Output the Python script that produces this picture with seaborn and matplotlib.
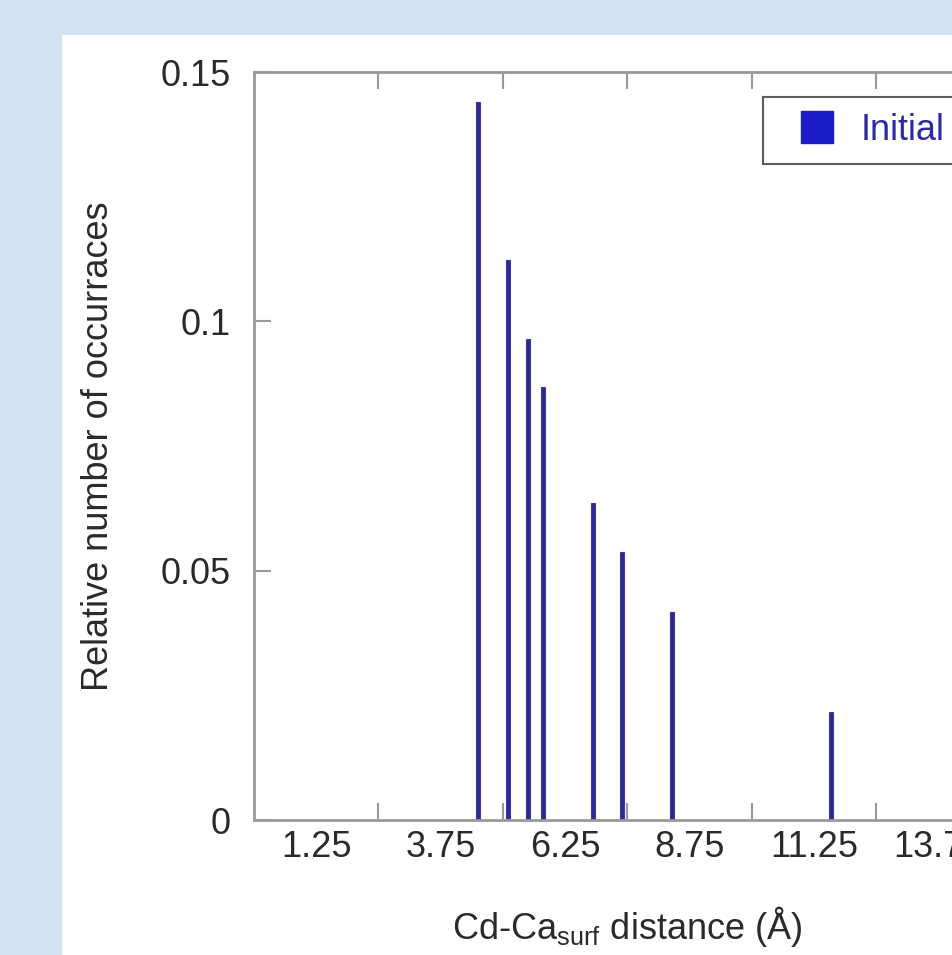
import matplotlib
matplotlib.use("Agg")
import matplotlib.pyplot as plt
import numpy as np
import pandas as pd
import seaborn as sns
from matplotlib.lines import Line2D
from matplotlib.patches import Rectangle

# distances (Angstrom) and relative occurrences
distance = [4.50, 5.10, 5.50, 5.80, 6.81, 7.39, 8.39, 11.59]
occurrence = [0.1440, 0.1122, 0.0965, 0.0869, 0.0635, 0.0537, 0.0417, 0.0216]
bin_labels = ["1.25", "3.75", "6.25", "8.75", "11.25", "13.75"]
bin_centers = [1.25, 3.75, 6.25, 8.75, 11.25, 13.75]
bin_edges = [2.5, 5.0, 7.5, 10.0, 12.5]
y_ticks = [0, 0.05, 0.1, 0.15]
y_labels = ["0", "0.05", "0.1", "0.15"]

df = pd.DataFrame({"distance": distance, "occurrence": occurrence})

sns.set_style("white")
plt.rcParams["font.family"] = ["Liberation Sans", "DejaVu Sans"]
FS = 26

fig = plt.figure(figsize=(9.53, 9.55), dpi=100)
fig.patch.set_facecolor("#d3e3f2")
fig.add_artist(Rectangle((62 / 953, 0), 1, (955 - 35) / 955,
                         transform=fig.transFigure, facecolor="white",
                         edgecolor="none", zorder=0))

# axes runs off the right edge like in the cropped original
ax = fig.add_axes([254 / 953, 135 / 955, 747 / 953, 748 / 955])
ax.set_facecolor("white")

min_gap = np.min(np.diff(sorted(distance)))
sns.barplot(data=df, x="distance", y="occurrence", native_scale=True,
            width=0.085 / min_gap, color="#2c2c86", edgecolor="#3a3ab0",
            linewidth=0.8, saturation=1, ax=ax)

ax.set_xlim(0, 15)
ax.set_ylim(0, 0.15)

ax.set_xticks(bin_centers)
ax.set_xticklabels(bin_labels)
ax.set_xticks(bin_edges, minor=True)
ax.set_yticks(y_ticks)
ax.set_yticklabels(y_labels)

ax.tick_params(axis="x", which="major", length=0, pad=7,
               labelsize=FS, labelcolor="#2a2a2a")
ax.tick_params(axis="x", which="minor", direction="in", length=12,
               width=1.5, color="#999999", top=True, bottom=True)
ax.tick_params(axis="y", which="major", direction="in", length=12,
               width=1.5, color="#999999", left=True, right=True,
               pad=17, labelsize=FS, labelcolor="#2a2a2a")

for s in ax.spines.values():
    s.set_color("#999999")
    s.set_linewidth(2)

ax.set_xlabel(r"Cd-Ca$_{\mathregular{surf}}$ distance (Å)", fontsize=FS,
              color="#2a2a2a")
ax.xaxis.set_label_coords(0.5, -0.112)
ax.set_ylabel("Relative number of occurraces", fontsize=FS, color="#2a2a2a")
ax.yaxis.set_label_coords(-0.185, 0.5)

handle = Line2D([], [], linestyle="none", marker="s", markersize=23,
                markerfacecolor="#1c1cc4", markeredgecolor="#1c1cc4")
leg = ax.legend([handle], ["Initial"], loc="upper left",
                bbox_to_anchor=(0.681, 0.967), borderaxespad=0,
                fontsize=FS, frameon=True, fancybox=False,
                handlelength=2.1, handletextpad=0.15, borderpad=0.45)
leg.get_frame().set_edgecolor("#333333")
leg.get_frame().set_linewidth(1.5)
for t in leg.get_texts():
    t.set_color("#2b2ba0")

fig.savefig("out.png", dpi=100)
